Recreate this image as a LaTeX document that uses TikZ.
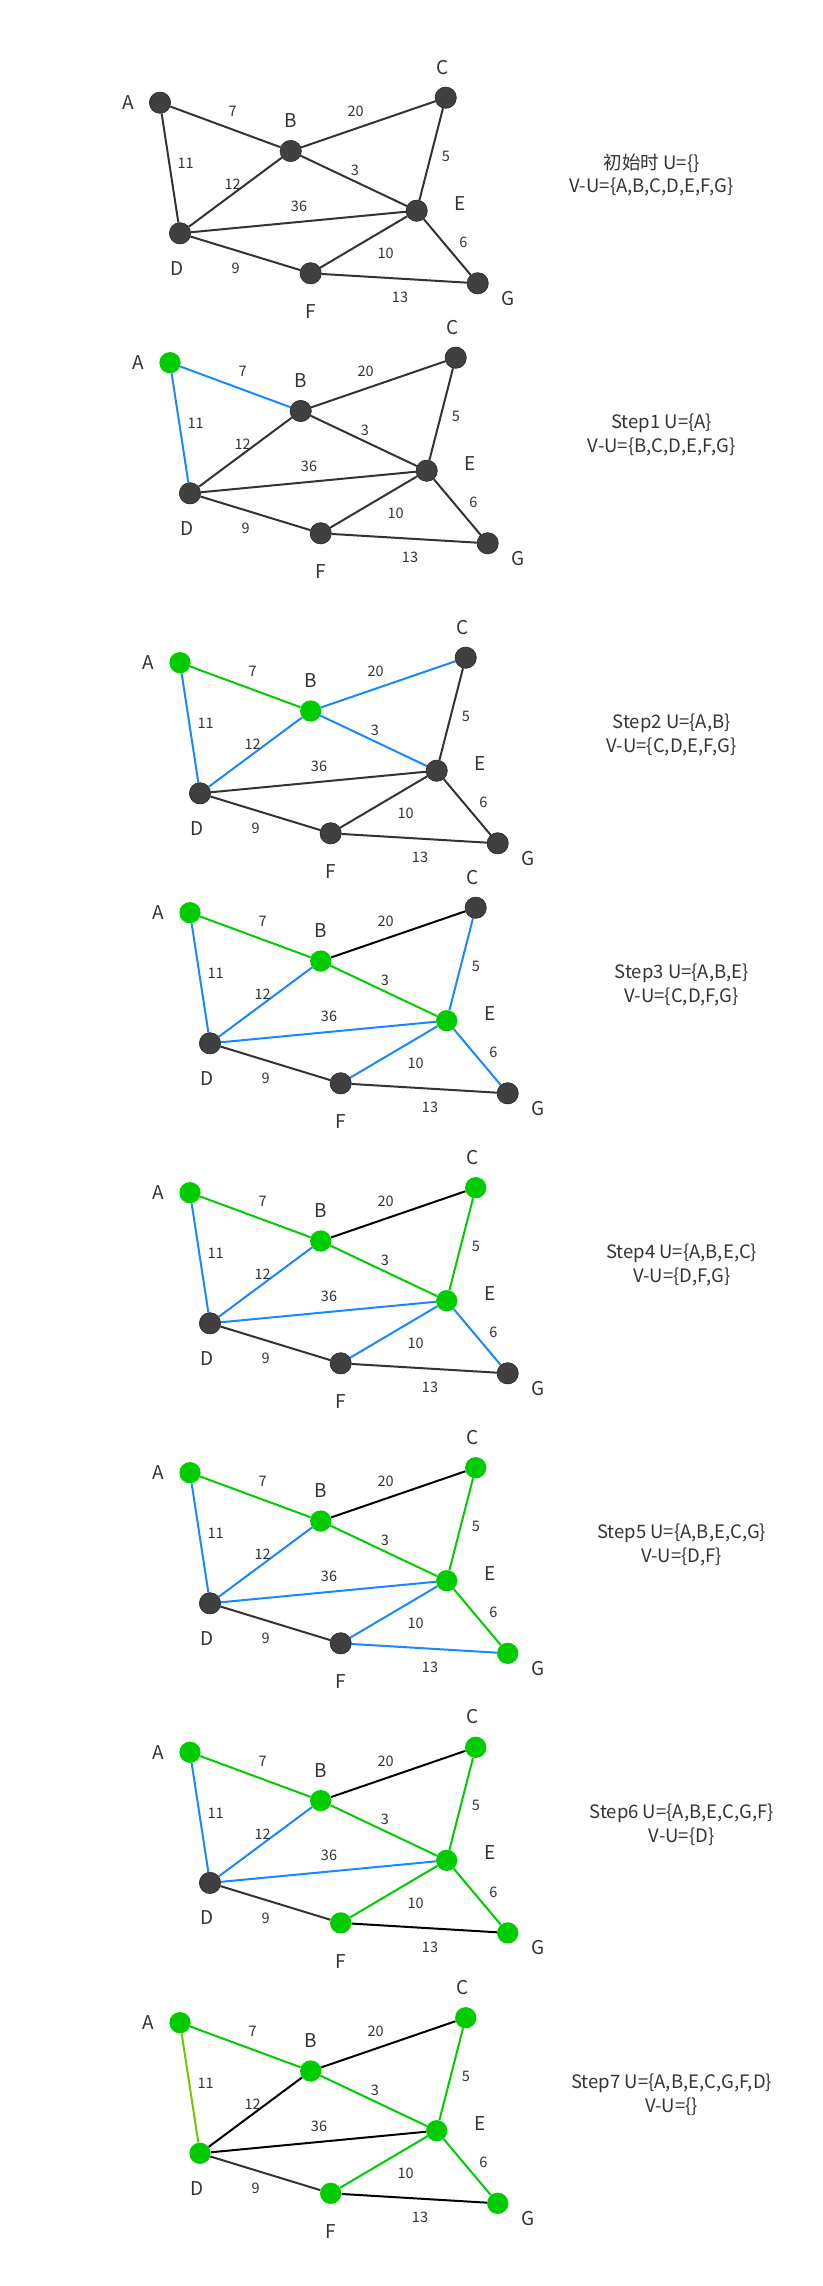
\documentclass[tikz,border=0pt]{standalone}
\usepackage{fontspec}
\setmainfont{Noto Sans CJK SC}
\usetikzlibrary{backgrounds}
\definecolor{nodedark}{RGB}{64,64,64}
\definecolor{nodegreen}{RGB}{0,204,0}
\definecolor{edgeblue}{RGB}{25,135,255}
\definecolor{edgedark}{RGB}{51,51,51}
\definecolor{edgeyg}{RGB}{110,200,0}
\definecolor{txtc}{RGB}{51,51,51}
\tikzset{
  dnode/.style={circle,inner sep=0pt,minimum size=21.3pt,fill=nodedark,draw=black!85,line width=0.6pt},
  gnode/.style={circle,inner sep=0pt,minimum size=21.3pt,fill=nodegreen},
  dedge/.style={draw=edgedark,line width=2pt},
  kedge/.style={draw=black,line width=2pt},
  bedge/.style={draw=edgeblue,line width=2pt},
  gedge/.style={draw=nodegreen,line width=2pt},
  ygedge/.style={draw=edgeyg,line width=2pt},
  lbl/.style={inner sep=0pt,text=txtc,font=\fontsize{19}{21}\selectfont},
  wlbl/.style={inner sep=0pt,text=txtc,font=\fontsize{14.5}{16}\selectfont},
  txt/.style={inner sep=0pt,text=txtc,font=\fontsize{18.5}{21}\selectfont},
  nA/.style=dnode,nB/.style=dnode,nC/.style=dnode,nD/.style=dnode,
  nE/.style=dnode,nF/.style=dnode,nG/.style=dnode,
  eAB/.style=dedge,eAD/.style=dedge,eBC/.style=dedge,eBD/.style=dedge,
  eBE/.style=dedge,eCE/.style=dedge,eDE/.style=dedge,eDF/.style=dedge,
  eEF/.style=dedge,eEG/.style=dedge,eFG/.style=dedge
}
\newcommand\mypanel[3]{%
  \node[nA] (A#1) at (0,0) {};
  \node[nB] (B#1) at (130.7,48.3) {};
  \node[nC] (C#1) at (285.7,-5) {};
  \node[nD] (D#1) at (20,130.6) {};
  \node[nE] (E#1) at (256.7,108) {};
  \node[nF] (F#1) at (150.7,170.6) {};
  \node[nG] (G#1) at (317.7,180.6) {};
  \begin{pgfonlayer}{background}
    \draw[eAB] (A#1) -- (B#1);
    \draw[eAD] (A#1) -- (D#1);
    \draw[eBC] (B#1) -- (C#1);
    \draw[eBD] (B#1) -- (D#1);
    \draw[eBE] (B#1) -- (E#1);
    \draw[eCE] (C#1) -- (E#1);
    \draw[eDE] (D#1) -- (E#1);
    \draw[eDF] (D#1) -- (F#1);
    \draw[eEF] (E#1) -- (F#1);
    \draw[eEG] (E#1) -- (G#1);
    \draw[eFG] (F#1) -- (G#1);
  \end{pgfonlayer}
  \node[lbl] (lA#1) at (-31.7,0) {A};
  \node[lbl] (lB#1) at (130.7,18) {B};
  \node[lbl] (lC#1) at (282.3,-35.4) {C};
  \node[lbl] (lD#1) at (16.7,165.6) {D};
  \node[lbl] (lE#1) at (300,100.6) {E};
  \node[lbl] (lF#1) at (150.7,209) {F};
  \node[lbl] (lG#1) at (348.3,195.6) {G};
  \node[wlbl] (wAB#1) at (72.7,9) {7};
  \node[wlbl] (wBC#1) at (195.7,9) {20};
  \node[wlbl] (wAD#1) at (25.7,60.6) {11};
  \node[wlbl] (wBD#1) at (72.7,81.6) {12};
  \node[wlbl] (wBE#1) at (195,67.3) {3};
  \node[wlbl] (wCE#1) at (286,53.3) {5};
  \node[wlbl] (wDE#1) at (139,103.3) {36};
  \node[wlbl] (wEG#1) at (303.3,140) {6};
  \node[wlbl] (wEF#1) at (225.7,150.6) {10};
  \node[wlbl] (wDF#1) at (75.7,165.6) {9};
  \node[wlbl] (wFG#1) at (240,195) {13};
  \node[txt] (tu#1) at (491.7,60.6) {#2};
  \node[txt] (tv#1) at (491.7,84) {#3};
}
\begin{document}
\begin{tikzpicture}[x=1pt,y=-1pt]
\useasboundingbox (0,0) rectangle (822,2286);
\begin{scope}[shift={(160,102.7)}]
  \mypanel{1}{初始时 U=\{\}}{V-U=\{A,B,C,D,E,F,G\}}
\end{scope}
\begin{scope}[shift={(170,362.7)},nA/.style=gnode,eAB/.style=bedge,eAD/.style=bedge]
  \mypanel{2}{Step1 U=\{A\}}{V-U=\{B,C,D,E,F,G\}}
\end{scope}
\begin{scope}[shift={(180,662.7)},nA/.style=gnode,nB/.style=gnode,
  eAB/.style=gedge,eAD/.style=bedge,eBC/.style=bedge,eBD/.style=bedge,eBE/.style=bedge]
  \mypanel{3}{Step2 U=\{A,B\}}{V-U=\{C,D,E,F,G\}}
\end{scope}
\begin{scope}[shift={(190,912.7)},nA/.style=gnode,nB/.style=gnode,nE/.style=gnode,
  eAB/.style=gedge,eBE/.style=gedge,eBC/.style=kedge,eAD/.style=bedge,eBD/.style=bedge,
  eDE/.style=bedge,eCE/.style=bedge,eEF/.style=bedge,eEG/.style=bedge]
  \mypanel{4}{Step3 U=\{A,B,E\}}{V-U=\{C,D,F,G\}}
\end{scope}
\begin{scope}[shift={(190,1192.7)},nA/.style=gnode,nB/.style=gnode,nE/.style=gnode,nC/.style=gnode,
  eAB/.style=gedge,eBE/.style=gedge,eCE/.style=gedge,eBC/.style=kedge,eAD/.style=bedge,eBD/.style=bedge,
  eDE/.style=bedge,eEF/.style=bedge,eEG/.style=bedge]
  \mypanel{5}{Step4 U=\{A,B,E,C\}}{V-U=\{D,F,G\}}
\end{scope}
\begin{scope}[shift={(190,1472.7)},nA/.style=gnode,nB/.style=gnode,nE/.style=gnode,nC/.style=gnode,nG/.style=gnode,
  eAB/.style=gedge,eBE/.style=gedge,eCE/.style=gedge,eEG/.style=gedge,eBC/.style=kedge,eAD/.style=bedge,
  eBD/.style=bedge,eDE/.style=bedge,eEF/.style=bedge,eFG/.style=bedge]
  \mypanel{6}{Step5 U=\{A,B,E,C,G\}}{V-U=\{D,F\}}
\end{scope}
\begin{scope}[shift={(190,1752.3)},nA/.style=gnode,nB/.style=gnode,nE/.style=gnode,nC/.style=gnode,nG/.style=gnode,nF/.style=gnode,
  eAB/.style=gedge,eBE/.style=gedge,eCE/.style=gedge,eEG/.style=gedge,eEF/.style=gedge,eBC/.style=kedge,
  eFG/.style=kedge,eAD/.style=bedge,eBD/.style=bedge,eDE/.style=bedge]
  \mypanel{7}{Step6 U=\{A,B,E,C,G,F\}}{V-U=\{D\}}
\end{scope}
\begin{scope}[shift={(180,2022.7)},nA/.style=gnode,nB/.style=gnode,nE/.style=gnode,nC/.style=gnode,nG/.style=gnode,nF/.style=gnode,nD/.style=gnode,
  eAB/.style=gedge,eBE/.style=gedge,eCE/.style=gedge,eEG/.style=gedge,eEF/.style=gedge,eAD/.style=ygedge,
  eBC/.style=kedge,eBD/.style=kedge,eDE/.style=kedge,eFG/.style=kedge]
  \mypanel{8}{Step7 U=\{A,B,E,C,G,F,D\}}{V-U=\{\}}
\end{scope}
\end{tikzpicture}
\end{document}
